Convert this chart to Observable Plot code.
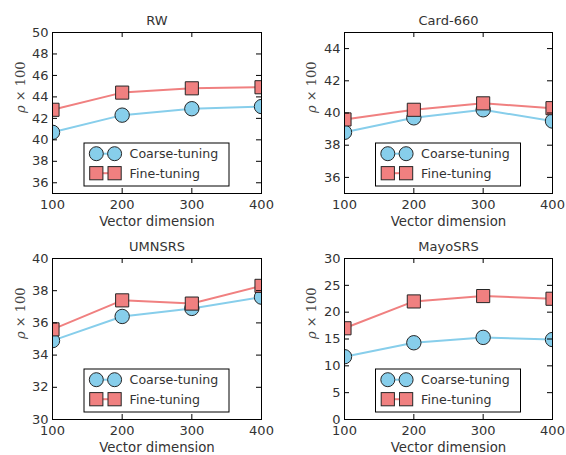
<!DOCTYPE html>
<html>
<head>
<meta charset="utf-8">
<script src="https://cdn.jsdelivr.net/npm/d3@7"></script>
<script src="https://cdn.jsdelivr.net/npm/@observablehq/plot@0.6"></script>
<style>
  html, body { margin: 0; padding: 0; background: #fff; }
  #root { position: relative; width: 566px; height: 455px; background: #fff; overflow: hidden; }
  #root svg { position: absolute; }
</style>
</head>
<body>
<div id="root"></div>
<script>
// ---- data ----
const dims = [100, 200, 300, 400];
const seriesNames = ["Coarse-tuning", "Fine-tuning"];
const panelTitles = ["RW", "Card-660", "UMNSRS", "MayoSRS"];

const rwCoarse = [40.7, 42.3, 42.9, 43.1];
const rwFine = [42.8, 44.4, 44.8, 44.9];
const cardCoarse = [38.8, 39.7, 40.2, 39.5];
const cardFine = [39.6, 40.2, 40.6, 40.3];
const umnCoarse = [34.9, 36.4, 36.9, 37.6];
const umnFine = [35.6, 37.4, 37.2, 38.3];
const mayoCoarse = [11.7, 14.3, 15.3, 14.9];
const mayoFine = [17.0, 22.0, 23.0, 22.5];

const yDomains = [[35, 50], [35, 45], [30, 40], [0, 30]];
const yTickSets = [
  [36, 38, 40, 42, 44, 46, 48, 50],
  [36, 38, 40, 42, 44],
  [30, 32, 34, 36, 38, 40],
  [0, 5, 10, 15, 20, 25, 30]
];
const xTicks = [100, 200, 300, 400];
const xLabel = "Vector dimension";
const yLabelSymbol = "ρ";
const yLabelRest = " × 100";

// ---- layout / style ----
const coarseColor = "#87ceeb";
const fineColor = "#f08080";
const edge = "#262626";
const ink = "#333";
const font = "'DejaVu Sans', sans-serif";

const layouts = [
  {left: 0,   top: 0,   w: 283, h: 228, mL: 52, mR: 22, mT: 32, mB: 35, ylx: -31.5},
  {left: 283, top: 0,   w: 283, h: 228, mL: 61, mR: 14, mT: 32, mB: 35, ylx: -33},
  {left: 0,   top: 228, w: 283, h: 227, mL: 52, mR: 22, mT: 30, mB: 36, ylx: -31.5},
  {left: 283, top: 228, w: 283, h: 227, mL: 61, mR: 14, mT: 30, mB: 36, ylx: -33}
];
const coarseSets = [rwCoarse, cardCoarse, umnCoarse, mayoCoarse];
const fineSets = [rwFine, cardFine, umnFine, mayoFine];

const root = document.getElementById("root");

layouts.forEach((L, p) => {
  const coarse = dims.map((d, i) => ({x: d, y: coarseSets[p][i]}));
  const fine = dims.map((d, i) => ({x: d, y: fineSets[p][i]}));
  const fw = L.w - L.mL - L.mR;
  const fh = L.h - L.mT - L.mB;
  const tick = 5;

  const svg = Plot.plot({
    width: L.w, height: L.h,
    marginLeft: L.mL, marginRight: L.mR, marginTop: L.mT, marginBottom: L.mB,
    style: {fontFamily: font, fontSize: "13px", color: ink, background: "transparent", overflow: "visible"},
    x: {domain: [100, 400]},
    y: {domain: yDomains[p]},
    marks: [
      Plot.line(coarse, {x: "x", y: "y", stroke: coarseColor, strokeWidth: 2, clip: true}),
      Plot.dot(coarse, {x: "x", y: "y", r: 7.2, symbol: "circle", fill: coarseColor, stroke: edge, strokeWidth: 1, clip: true}),
      Plot.line(fine, {x: "x", y: "y", stroke: fineColor, strokeWidth: 2, clip: true}),
      Plot.dot(fine, {x: "x", y: "y", r: 7.4, symbol: "square", fill: fineColor, stroke: edge, strokeWidth: 1, clip: true}),
      // inward ticks
      Plot.tickY(yTickSets[p], {y: d => d, stroke: "#000", insetRight: fw - tick}),
      Plot.tickY(yTickSets[p], {y: d => d, stroke: "#000", insetLeft: fw - tick}),
      Plot.tickX(xTicks, {x: d => d, stroke: "#000", insetTop: fh - tick}),
      Plot.tickX(xTicks, {x: d => d, stroke: "#000", insetBottom: fh - tick}),
      Plot.frame({stroke: "#000", strokeWidth: 1}),
      Plot.axisY({ticks: yTickSets[p], tickSize: 0, tickPadding: 4, label: null, fontSize: 13, fill: ink}),
      Plot.axisX({ticks: xTicks, tickSize: 0, tickPadding: 6, label: null, fontSize: 13, fill: ink}),
      Plot.text([panelTitles[p]], {frameAnchor: "top", dy: -12, lineAnchor: "middle", fontSize: 13, fill: ink}),
      Plot.text([xLabel], {frameAnchor: "bottom", dy: 28.5, lineAnchor: "middle", fontSize: 13.3, fill: ink}),
      Plot.text([yLabelSymbol + yLabelRest], {frameAnchor: "left", dx: L.ylx, rotate: -90, lineAnchor: "middle", fontSize: 13, fill: "#444"})
    ]
  });
  svg.style.left = L.left + "px";
  svg.style.top = L.top + "px";
  root.appendChild(svg);

  // y label: italic rho in serif
  d3.select(svg).selectAll("text")
    .filter(function() { return this.textContent === yLabelSymbol + yLabelRest; })
    .each(function() {
      const t = d3.select(this);
      t.text(null).attr("font-family", "'DejaVu Serif', serif").style("font-family", "'DejaVu Serif', serif");
      t.append("tspan").attr("font-style", "italic").text(yLabelSymbol);
      t.append("tspan").text(yLabelRest);
    });

  // legend (lower center inside frame)
  const lw = 145, lh = 43;
  const lx = L.mL + (fw - lw) / 2;
  const ly = L.mT + fh - 7 - lh;
  const g = d3.select(svg).append("g").attr("class", "legend");
  g.append("rect").attr("x", lx).attr("y", ly).attr("width", lw).attr("height", lh)
    .attr("fill", "#fff").attr("stroke", "#000").attr("stroke-width", 1);
  const rows = [
    {name: seriesNames[0], color: coarseColor, sym: "circle", dy: 10.7},
    {name: seriesNames[1], color: fineColor, sym: "square", dy: 30.2}
  ];
  rows.forEach(r => {
    const cy = ly + r.dy;
    const x1 = lx + 12.3, x2 = lx + 30.6;
    g.append("line").attr("x1", x1).attr("x2", x2).attr("y1", cy).attr("y2", cy)
      .attr("stroke", r.color).attr("stroke-width", 2);
    [x1, x2].forEach(cx => {
      if (r.sym === "circle") {
        g.append("circle").attr("cx", cx).attr("cy", cy).attr("r", 7)
          .attr("fill", r.color).attr("stroke", edge).attr("stroke-width", 1);
      } else {
        g.append("rect").attr("x", cx - 6.6).attr("y", cy - 6.6).attr("width", 13.2).attr("height", 13.2)
          .attr("fill", r.color).attr("stroke", edge).attr("stroke-width", 1);
      }
    });
    g.append("text").attr("x", lx + 45.6).attr("y", cy).attr("dy", "0.36em")
      .attr("text-anchor", "start")
      .attr("font-family", font).attr("font-size", 12.6).attr("fill", ink).text(r.name);
  });
});
</script>
</body>
</html>
